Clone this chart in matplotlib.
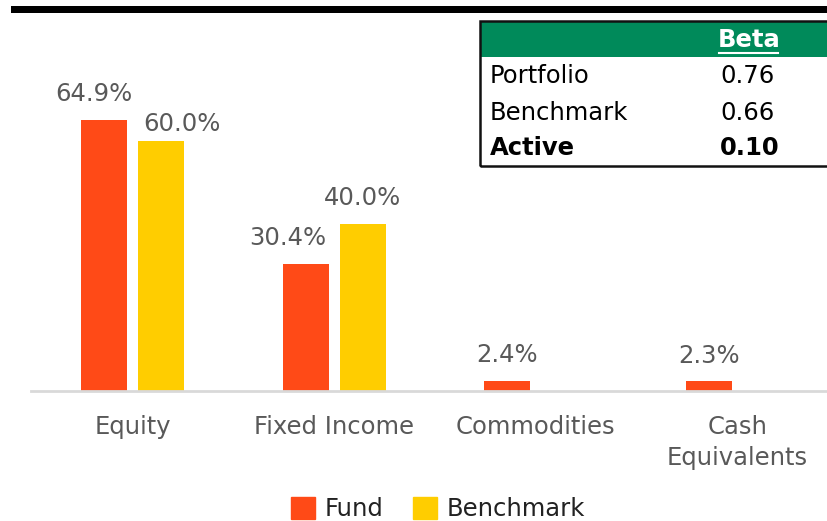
import numpy as np
import matplotlib
import matplotlib.pyplot as plt
from matplotlib.patches import Rectangle, Patch
from matplotlib.lines import Line2D

matplotlib.use('Agg')

categories = ['Equity', 'Fixed Income', 'Commodities', 'Cash\nEquivalents']
fund = [64.9, 30.4, 2.4, 2.3]
benchmark = [60.0, 40.0, None, None]

beta_rows = ['Portfolio', 'Benchmark', 'Active']
beta_values = ['0.76', '0.66', '0.10']

FUND_COLOR = '#FF4A17'
BENCH_COLOR = '#FFCD00'
GREEN = '#008A5A'
GREY_TEXT = '#595959'

W, H = 827, 521
plt.rcParams['font.family'] = ['DejaVu Sans']
plt.rcParams['font.size'] = 17.5


def fx(x):
    return x / W


def fy(y):
    return 1 - y / H


fig = plt.figure(figsize=(W / 100, H / 100), dpi=100)

# axes placed in pixel units: baseline at y=391, left at x=31
ax = fig.add_axes([fx(31), fy(391), 1 - fx(31), (391 - 20) / H])
ax.set_xlim(-0.504, 3.446)
ax.set_ylim(0, 371 / 4.17)

x = np.arange(len(categories))
width = 0.228
offset = 0.1414

ax.bar(x - offset, fund, width, color=FUND_COLOR)
bx = [xi + offset for xi, b in zip(x, benchmark) if b is not None]
bv = [b for b in benchmark if b is not None]
ax.bar(bx, bv, width, color=BENCH_COLOR)

# label nudges in pixels (dx, dy) to mimic manual placement
fund_nudge = [(-10, 0), (-18, 0), (0, 0), (0, 0)]
bench_nudge = [(21, -9), (0, 0)]

for xi, v, (dx, dy) in zip(x, fund, fund_nudge):
    ax.annotate(f'{v:.1f}%', (xi - offset, v), xytext=(dx * 0.72, 10 + dy * 0.72),
                textcoords='offset points', ha='center', va='bottom', color=GREY_TEXT)
for xi, v, (dx, dy) in zip(bx, bv, bench_nudge):
    ax.annotate(f'{v:.1f}%', (xi, v), xytext=(dx * 0.72, 10 + dy * 0.72),
                textcoords='offset points', ha='center', va='bottom', color=GREY_TEXT)

ax.set_xticks(x)
ax.set_xticklabels(categories, color=GREY_TEXT, linespacing=1.4)
ax.tick_params(axis='x', length=0, pad=17)
ax.set_yticks([])
for s in ['top', 'right', 'left']:
    ax.spines[s].set_visible(False)
ax.spines['bottom'].set_color('#D9D9D9')
ax.spines['bottom'].set_linewidth(2)

# black rule at top
fig.add_artist(Rectangle((fx(11), fy(13)), 1 - fx(11), 7 / H,
                         transform=fig.transFigure, color='black', lw=0))

# beta table
fig.add_artist(Rectangle((fx(480), fy(57)), 1, 36 / H,
                         transform=fig.transFigure, facecolor=GREEN, lw=0))
fig.add_artist(Rectangle((fx(480), fy(166)), 1, 145 / H,
                         transform=fig.transFigure, facecolor='none',
                         edgecolor='#111111', lw=1.8))
fig.text(fx(749), fy(40), 'Beta', color='white', fontweight='bold',
         ha='center', va='center')
fig.add_artist(Line2D([fx(719), fx(778)], [fy(53), fy(53)],
                      transform=fig.transFigure, color='white', lw=1.5))
row_y = [76, 113, 148]
for name, val, yy in zip(beta_rows, beta_values, row_y):
    weight = 'bold' if name == 'Active' else 'normal'
    fig.text(fx(490), fy(yy), name, color='black', fontweight=weight,
             ha='left', va='center')
    fig.text(fx(720), fy(yy), val, color='black', fontweight=weight,
             ha='left', va='center')

# legend
handles = [Patch(color=FUND_COLOR, label='Fund'),
           Patch(color=BENCH_COLOR, label='Benchmark')]
fig.legend(handles=handles, loc='center', bbox_to_anchor=(fx(438), fy(509)),
           ncol=2, frameon=False, handlelength=1.0, handleheight=1.0,
           handletextpad=0.4, columnspacing=1.2, borderaxespad=0,
           labelcolor='#222222')

fig.savefig('out.png', dpi=100)
